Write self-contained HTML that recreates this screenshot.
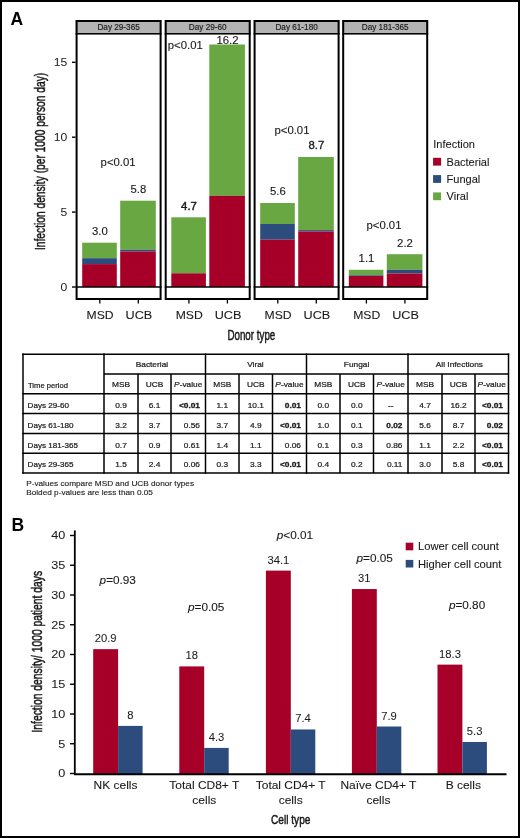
<!DOCTYPE html>
<html><head><meta charset="utf-8"><style>
html,body{margin:0;padding:0;background:#fff;}
svg{display:block;will-change:transform;font-family:"Liberation Sans", sans-serif;}
</style></head><body>
<svg width="520" height="838" viewBox="0 0 520 838">
<rect x="0" y="0" width="520" height="838" fill="#fff"/>
<text transform="translate(10.60,24.60) scale(1.0,1)" font-size="17.5" text-anchor="start" font-weight="bold" font-style="normal" fill="#000">A</text>
<rect x="75.60" y="20.00" width="86.00" height="14.50" fill="#b3b3b3" />
<rect x="82.20" y="242.70" width="34.60" height="15.50" fill="#69a742" />
<rect x="82.20" y="258.20" width="34.60" height="5.90" fill="#2c4c7e" />
<rect x="82.20" y="264.10" width="34.60" height="22.90" fill="#a60029" />
<text transform="translate(99.90,235.10) scale(1.07,1)" font-size="10.6" text-anchor="middle" font-weight="normal" font-style="normal" fill="#1a1a1a" stroke="#1a1a1a" stroke-width="0.12">3.0</text>
<rect x="120.20" y="200.70" width="35.60" height="49.00" fill="#69a742" />
<rect x="120.20" y="249.70" width="35.60" height="1.80" fill="#2c4c7e" />
<rect x="120.20" y="251.50" width="35.60" height="35.50" fill="#a60029" />
<text transform="translate(138.40,193.10) scale(1.07,1)" font-size="10.6" text-anchor="middle" font-weight="normal" font-style="normal" fill="#1a1a1a" stroke="#1a1a1a" stroke-width="0.12">5.8</text>
<line x1="75.60" y1="287.00" x2="161.60" y2="287.00" stroke="#000" stroke-width="1.6"/>
<line x1="75.60" y1="33.75" x2="161.60" y2="33.75" stroke="#000" stroke-width="1.5"/>
<rect x="76.6" y="21.0" width="84.0" height="278.0" fill="none" stroke="#000" stroke-width="2"/>
<text transform="translate(118.60,29.50) scale(1.0,1)" font-size="8.2" text-anchor="middle" font-weight="normal" font-style="normal" fill="#1a1a1a" stroke="#1a1a1a" stroke-width="0.15">Day 29-365</text>
<text transform="translate(100.60,166.00) scale(1.07,1)" font-size="10.6" text-anchor="start" font-weight="normal" font-style="normal" fill="#1a1a1a" stroke="#1a1a1a" stroke-width="0.1">p&lt;0.01</text>
<line x1="99.80" y1="300.00" x2="99.80" y2="303.50" stroke="#000" stroke-width="1.3"/>
<line x1="138.30" y1="300.00" x2="138.30" y2="303.50" stroke="#000" stroke-width="1.3"/>
<text transform="translate(100.10,318.80) scale(1.05,1)" font-size="11.6" text-anchor="middle" font-weight="normal" font-style="normal" fill="#1a1a1a" stroke="#1a1a1a" stroke-width="0.1">MSD</text>
<text transform="translate(138.90,318.80) scale(1.09,1)" font-size="11.6" text-anchor="middle" font-weight="normal" font-style="normal" fill="#1a1a1a" stroke="#1a1a1a" stroke-width="0.1">UCB</text>
<rect x="164.70" y="20.00" width="86.00" height="14.50" fill="#b3b3b3" />
<rect x="171.30" y="217.30" width="34.60" height="56.00" fill="#69a742" />
<rect x="171.30" y="273.30" width="34.60" height="0.00" fill="#2c4c7e" />
<rect x="171.30" y="273.30" width="34.60" height="13.70" fill="#a60029" />
<text transform="translate(189.00,209.70) scale(1.07,1)" font-size="10.6" text-anchor="middle" font-weight="normal" font-style="normal" fill="#1a1a1a" stroke="#1a1a1a" stroke-width="0.45">4.7</text>
<rect x="209.30" y="44.50" width="35.60" height="151.40" fill="#69a742" />
<rect x="209.30" y="195.90" width="35.60" height="0.00" fill="#2c4c7e" />
<rect x="209.30" y="195.90" width="35.60" height="91.10" fill="#a60029" />
<text transform="translate(227.50,43.60) scale(1.07,1)" font-size="10.6" text-anchor="middle" font-weight="normal" font-style="normal" fill="#1a1a1a" stroke="#1a1a1a" stroke-width="0.12">16.2</text>
<line x1="164.70" y1="287.00" x2="250.70" y2="287.00" stroke="#000" stroke-width="1.6"/>
<line x1="164.70" y1="33.75" x2="250.70" y2="33.75" stroke="#000" stroke-width="1.5"/>
<rect x="165.7" y="21.0" width="84.0" height="278.0" fill="none" stroke="#000" stroke-width="2"/>
<text transform="translate(207.70,29.50) scale(1.0,1)" font-size="8.2" text-anchor="middle" font-weight="normal" font-style="normal" fill="#1a1a1a" stroke="#1a1a1a" stroke-width="0.15">Day 29-60</text>
<text transform="translate(167.80,49.30) scale(1.07,1)" font-size="10.6" text-anchor="start" font-weight="normal" font-style="normal" fill="#1a1a1a" stroke="#1a1a1a" stroke-width="0.1">p&lt;0.01</text>
<line x1="188.90" y1="300.00" x2="188.90" y2="303.50" stroke="#000" stroke-width="1.3"/>
<line x1="227.40" y1="300.00" x2="227.40" y2="303.50" stroke="#000" stroke-width="1.3"/>
<text transform="translate(189.20,318.80) scale(1.05,1)" font-size="11.6" text-anchor="middle" font-weight="normal" font-style="normal" fill="#1a1a1a" stroke="#1a1a1a" stroke-width="0.1">MSD</text>
<text transform="translate(228.00,318.80) scale(1.09,1)" font-size="11.6" text-anchor="middle" font-weight="normal" font-style="normal" fill="#1a1a1a" stroke="#1a1a1a" stroke-width="0.1">UCB</text>
<rect x="253.60" y="20.00" width="86.00" height="14.50" fill="#b3b3b3" />
<rect x="260.20" y="203.00" width="34.60" height="21.00" fill="#69a742" />
<rect x="260.20" y="224.00" width="34.60" height="15.70" fill="#2c4c7e" />
<rect x="260.20" y="239.70" width="34.60" height="47.30" fill="#a60029" />
<text transform="translate(277.90,195.40) scale(1.07,1)" font-size="10.6" text-anchor="middle" font-weight="normal" font-style="normal" fill="#1a1a1a" stroke="#1a1a1a" stroke-width="0.12">5.6</text>
<rect x="298.20" y="157.00" width="35.60" height="73.10" fill="#69a742" />
<rect x="298.20" y="230.10" width="35.60" height="1.40" fill="#2c4c7e" />
<rect x="298.20" y="231.50" width="35.60" height="55.50" fill="#a60029" />
<text transform="translate(316.40,149.40) scale(1.07,1)" font-size="10.6" text-anchor="middle" font-weight="normal" font-style="normal" fill="#1a1a1a" stroke="#1a1a1a" stroke-width="0.3">8.7</text>
<line x1="253.60" y1="287.00" x2="339.60" y2="287.00" stroke="#000" stroke-width="1.6"/>
<line x1="253.60" y1="33.75" x2="339.60" y2="33.75" stroke="#000" stroke-width="1.5"/>
<rect x="254.6" y="21.0" width="84.0" height="278.0" fill="none" stroke="#000" stroke-width="2"/>
<text transform="translate(296.60,29.50) scale(1.0,1)" font-size="8.2" text-anchor="middle" font-weight="normal" font-style="normal" fill="#1a1a1a" stroke="#1a1a1a" stroke-width="0.15">Day 61-180</text>
<text transform="translate(274.50,134.20) scale(1.07,1)" font-size="10.6" text-anchor="start" font-weight="normal" font-style="normal" fill="#1a1a1a" stroke="#1a1a1a" stroke-width="0.1">p&lt;0.01</text>
<line x1="277.80" y1="300.00" x2="277.80" y2="303.50" stroke="#000" stroke-width="1.3"/>
<line x1="316.30" y1="300.00" x2="316.30" y2="303.50" stroke="#000" stroke-width="1.3"/>
<text transform="translate(278.10,318.80) scale(1.05,1)" font-size="11.6" text-anchor="middle" font-weight="normal" font-style="normal" fill="#1a1a1a" stroke="#1a1a1a" stroke-width="0.1">MSD</text>
<text transform="translate(316.90,318.80) scale(1.09,1)" font-size="11.6" text-anchor="middle" font-weight="normal" font-style="normal" fill="#1a1a1a" stroke="#1a1a1a" stroke-width="0.1">UCB</text>
<rect x="342.20" y="20.00" width="86.00" height="14.50" fill="#b3b3b3" />
<rect x="348.80" y="269.80" width="34.60" height="5.50" fill="#69a742" />
<rect x="348.80" y="275.30" width="34.60" height="0.70" fill="#2c4c7e" />
<rect x="348.80" y="276.00" width="34.60" height="11.00" fill="#a60029" />
<text transform="translate(366.50,262.20) scale(1.07,1)" font-size="10.6" text-anchor="middle" font-weight="normal" font-style="normal" fill="#1a1a1a" stroke="#1a1a1a" stroke-width="0.12">1.1</text>
<rect x="386.80" y="254.20" width="35.60" height="15.60" fill="#69a742" />
<rect x="386.80" y="269.80" width="35.60" height="3.70" fill="#2c4c7e" />
<rect x="386.80" y="273.50" width="35.60" height="13.50" fill="#a60029" />
<text transform="translate(405.00,246.60) scale(1.07,1)" font-size="10.6" text-anchor="middle" font-weight="normal" font-style="normal" fill="#1a1a1a" stroke="#1a1a1a" stroke-width="0.12">2.2</text>
<line x1="342.20" y1="287.00" x2="428.20" y2="287.00" stroke="#000" stroke-width="1.6"/>
<line x1="342.20" y1="33.75" x2="428.20" y2="33.75" stroke="#000" stroke-width="1.5"/>
<rect x="343.2" y="21.0" width="84.0" height="278.0" fill="none" stroke="#000" stroke-width="2"/>
<text transform="translate(385.20,29.50) scale(1.0,1)" font-size="8.2" text-anchor="middle" font-weight="normal" font-style="normal" fill="#1a1a1a" stroke="#1a1a1a" stroke-width="0.15">Day 181-365</text>
<text transform="translate(366.50,229.20) scale(1.07,1)" font-size="10.6" text-anchor="start" font-weight="normal" font-style="normal" fill="#1a1a1a" stroke="#1a1a1a" stroke-width="0.1">p&lt;0.01</text>
<line x1="366.40" y1="300.00" x2="366.40" y2="303.50" stroke="#000" stroke-width="1.3"/>
<line x1="404.90" y1="300.00" x2="404.90" y2="303.50" stroke="#000" stroke-width="1.3"/>
<text transform="translate(366.70,318.80) scale(1.05,1)" font-size="11.6" text-anchor="middle" font-weight="normal" font-style="normal" fill="#1a1a1a" stroke="#1a1a1a" stroke-width="0.1">MSD</text>
<text transform="translate(405.50,318.80) scale(1.09,1)" font-size="11.6" text-anchor="middle" font-weight="normal" font-style="normal" fill="#1a1a1a" stroke="#1a1a1a" stroke-width="0.1">UCB</text>
<line x1="72.00" y1="287.00" x2="75.60" y2="287.00" stroke="#000" stroke-width="1.4"/>
<text transform="translate(67.20,291.10) scale(1.03,1)" font-size="11.8" text-anchor="end" font-weight="normal" font-style="normal" fill="#1a1a1a">0</text>
<line x1="72.00" y1="212.10" x2="75.60" y2="212.10" stroke="#000" stroke-width="1.4"/>
<text transform="translate(67.20,216.20) scale(1.03,1)" font-size="11.8" text-anchor="end" font-weight="normal" font-style="normal" fill="#1a1a1a">5</text>
<line x1="72.00" y1="137.20" x2="75.60" y2="137.20" stroke="#000" stroke-width="1.4"/>
<text transform="translate(67.20,141.30) scale(1.03,1)" font-size="11.8" text-anchor="end" font-weight="normal" font-style="normal" fill="#1a1a1a">10</text>
<line x1="72.00" y1="62.30" x2="75.60" y2="62.30" stroke="#000" stroke-width="1.4"/>
<text transform="translate(67.20,66.40) scale(1.03,1)" font-size="11.8" text-anchor="end" font-weight="normal" font-style="normal" fill="#1a1a1a">15</text>
<text transform="translate(44.8,250) rotate(-90) scale(0.70,1)" font-size="14.6" fill="#1a1a1a" stroke="#1a1a1a" stroke-width="0.5">Infection density (per 1000 person day)</text>
<text transform="translate(227.4,339.5) scale(0.70,1)" font-size="14" fill="#1a1a1a" stroke="#1a1a1a" stroke-width="0.5">Donor type</text>
<text transform="translate(433.30,148.20) scale(1.0,1)" font-size="11" text-anchor="start" font-weight="normal" font-style="normal" fill="#1a1a1a" stroke="#1a1a1a" stroke-width="0.1">Infection</text>
<rect x="433.10" y="157.80" width="8.00" height="7.80" fill="#a60029" />
<text transform="translate(446.60,165.60) scale(1.0,1)" font-size="11" text-anchor="start" font-weight="normal" font-style="normal" fill="#1a1a1a" stroke="#1a1a1a" stroke-width="0.1">Bacterial</text>
<rect x="433.10" y="175.10" width="8.00" height="7.80" fill="#2c4c7e" />
<text transform="translate(446.60,182.90) scale(1.0,1)" font-size="11" text-anchor="start" font-weight="normal" font-style="normal" fill="#1a1a1a" stroke="#1a1a1a" stroke-width="0.1">Fungal</text>
<rect x="433.10" y="192.40" width="8.00" height="7.80" fill="#69a742" />
<text transform="translate(446.60,200.20) scale(1.0,1)" font-size="11" text-anchor="start" font-weight="normal" font-style="normal" fill="#1a1a1a" stroke="#1a1a1a" stroke-width="0.1">Viral</text>
<line x1="22.25" y1="354.20" x2="509.25" y2="354.20" stroke="#000" stroke-width="1.5"/>
<line x1="104.00" y1="374.10" x2="508.50" y2="374.10" stroke="#000" stroke-width="1.5"/>
<line x1="22.25" y1="393.70" x2="509.25" y2="393.70" stroke="#000" stroke-width="1.5"/>
<line x1="22.25" y1="413.60" x2="509.25" y2="413.60" stroke="#000" stroke-width="1.5"/>
<line x1="22.25" y1="433.40" x2="509.25" y2="433.40" stroke="#000" stroke-width="1.5"/>
<line x1="22.25" y1="453.20" x2="509.25" y2="453.20" stroke="#000" stroke-width="1.5"/>
<line x1="22.25" y1="473.10" x2="509.25" y2="473.10" stroke="#000" stroke-width="1.5"/>
<line x1="23.00" y1="353.45" x2="23.00" y2="473.85" stroke="#000" stroke-width="1.5"/>
<line x1="104.00" y1="353.45" x2="104.00" y2="473.85" stroke="#000" stroke-width="1.5"/>
<line x1="138.00" y1="374.10" x2="138.00" y2="473.10" stroke="#000" stroke-width="1.5"/>
<line x1="171.00" y1="374.10" x2="171.00" y2="473.10" stroke="#000" stroke-width="1.5"/>
<line x1="205.50" y1="353.45" x2="205.50" y2="473.85" stroke="#000" stroke-width="1.5"/>
<line x1="239.00" y1="374.10" x2="239.00" y2="473.10" stroke="#000" stroke-width="1.5"/>
<line x1="272.50" y1="374.10" x2="272.50" y2="473.10" stroke="#000" stroke-width="1.5"/>
<line x1="306.50" y1="353.45" x2="306.50" y2="473.85" stroke="#000" stroke-width="1.5"/>
<line x1="340.00" y1="374.10" x2="340.00" y2="473.10" stroke="#000" stroke-width="1.5"/>
<line x1="373.50" y1="374.10" x2="373.50" y2="473.10" stroke="#000" stroke-width="1.5"/>
<line x1="408.00" y1="353.45" x2="408.00" y2="473.85" stroke="#000" stroke-width="1.5"/>
<line x1="442.00" y1="374.10" x2="442.00" y2="473.10" stroke="#000" stroke-width="1.5"/>
<line x1="475.00" y1="374.10" x2="475.00" y2="473.10" stroke="#000" stroke-width="1.5"/>
<line x1="508.50" y1="353.45" x2="508.50" y2="473.85" stroke="#000" stroke-width="1.5"/>
<text transform="translate(28.00,387.60) scale(0.94,1)" font-size="8.1" text-anchor="start" font-weight="normal" font-style="normal" fill="#1a1a1a" stroke="#1a1a1a" stroke-width="0.22">Time period</text>
<text transform="translate(151.90,367.20) scale(1.03,1)" font-size="8.1" text-anchor="middle" font-weight="normal" font-style="normal" fill="#1a1a1a" stroke="#1a1a1a" stroke-width="0.22">Bacterial</text>
<text transform="translate(121.00,387.20) scale(1.03,1)" font-size="8.1" text-anchor="middle" font-weight="normal" font-style="normal" fill="#1a1a1a" stroke="#1a1a1a" stroke-width="0.22">MSB</text>
<text transform="translate(154.50,387.20) scale(1.03,1)" font-size="8.1" text-anchor="middle" font-weight="normal" font-style="normal" fill="#1a1a1a" stroke="#1a1a1a" stroke-width="0.22">UCB</text>
<text transform="translate(188.25,387.2) scale(1.03,1)" font-size="8.1" text-anchor="middle" fill="#1a1a1a" stroke="#1a1a1a" stroke-width="0.22"><tspan font-style="italic">P</tspan>-value</text>
<text transform="translate(255.40,367.20) scale(1.03,1)" font-size="8.1" text-anchor="middle" font-weight="normal" font-style="normal" fill="#1a1a1a" stroke="#1a1a1a" stroke-width="0.22">Viral</text>
<text transform="translate(222.25,387.20) scale(1.03,1)" font-size="8.1" text-anchor="middle" font-weight="normal" font-style="normal" fill="#1a1a1a" stroke="#1a1a1a" stroke-width="0.22">MSB</text>
<text transform="translate(255.75,387.20) scale(1.03,1)" font-size="8.1" text-anchor="middle" font-weight="normal" font-style="normal" fill="#1a1a1a" stroke="#1a1a1a" stroke-width="0.22">UCB</text>
<text transform="translate(289.50,387.2) scale(1.03,1)" font-size="8.1" text-anchor="middle" fill="#1a1a1a" stroke="#1a1a1a" stroke-width="0.22"><tspan font-style="italic">P</tspan>-value</text>
<text transform="translate(356.60,367.20) scale(1.03,1)" font-size="8.1" text-anchor="middle" font-weight="normal" font-style="normal" fill="#1a1a1a" stroke="#1a1a1a" stroke-width="0.22">Fungal</text>
<text transform="translate(323.25,387.20) scale(1.03,1)" font-size="8.1" text-anchor="middle" font-weight="normal" font-style="normal" fill="#1a1a1a" stroke="#1a1a1a" stroke-width="0.22">MSB</text>
<text transform="translate(356.75,387.20) scale(1.03,1)" font-size="8.1" text-anchor="middle" font-weight="normal" font-style="normal" fill="#1a1a1a" stroke="#1a1a1a" stroke-width="0.22">UCB</text>
<text transform="translate(390.75,387.2) scale(1.03,1)" font-size="8.1" text-anchor="middle" fill="#1a1a1a" stroke="#1a1a1a" stroke-width="0.22"><tspan font-style="italic">P</tspan>-value</text>
<text transform="translate(459.40,367.20) scale(1.03,1)" font-size="8.1" text-anchor="middle" font-weight="normal" font-style="normal" fill="#1a1a1a" stroke="#1a1a1a" stroke-width="0.22">All Infections</text>
<text transform="translate(425.00,387.20) scale(1.03,1)" font-size="8.1" text-anchor="middle" font-weight="normal" font-style="normal" fill="#1a1a1a" stroke="#1a1a1a" stroke-width="0.22">MSB</text>
<text transform="translate(458.50,387.20) scale(1.03,1)" font-size="8.1" text-anchor="middle" font-weight="normal" font-style="normal" fill="#1a1a1a" stroke="#1a1a1a" stroke-width="0.22">UCB</text>
<text transform="translate(491.75,387.2) scale(1.03,1)" font-size="8.1" text-anchor="middle" fill="#1a1a1a" stroke="#1a1a1a" stroke-width="0.22"><tspan font-style="italic">P</tspan>-value</text>
<text transform="translate(27.60,408.30) scale(1.0,1)" font-size="8.1" text-anchor="start" font-weight="normal" font-style="normal" fill="#1a1a1a" stroke="#1a1a1a" stroke-width="0.22">Days 29-60</text>
<text transform="translate(121.00,408.30) scale(1.03,1)" font-size="8.1" text-anchor="middle" font-weight="normal" font-style="normal" fill="#1a1a1a" stroke="#1a1a1a" stroke-width="0.22">0.9</text>
<text transform="translate(154.50,408.30) scale(1.03,1)" font-size="8.1" text-anchor="middle" font-weight="normal" font-style="normal" fill="#1a1a1a" stroke="#1a1a1a" stroke-width="0.22">6.1</text>
<text transform="translate(200.00,408.30) scale(1.03,1)" font-size="8.1" text-anchor="end" font-weight="bold" font-style="normal" fill="#1a1a1a" stroke="#1a1a1a" stroke-width="0.3">&lt;0.01</text>
<text transform="translate(222.25,408.30) scale(1.03,1)" font-size="8.1" text-anchor="middle" font-weight="normal" font-style="normal" fill="#1a1a1a" stroke="#1a1a1a" stroke-width="0.22">1.1</text>
<text transform="translate(255.75,408.30) scale(1.03,1)" font-size="8.1" text-anchor="middle" font-weight="normal" font-style="normal" fill="#1a1a1a" stroke="#1a1a1a" stroke-width="0.22">10.1</text>
<text transform="translate(301.00,408.30) scale(1.03,1)" font-size="8.1" text-anchor="end" font-weight="bold" font-style="normal" fill="#1a1a1a" stroke="#1a1a1a" stroke-width="0.3">0.01</text>
<text transform="translate(323.25,408.30) scale(1.03,1)" font-size="8.1" text-anchor="middle" font-weight="normal" font-style="normal" fill="#1a1a1a" stroke="#1a1a1a" stroke-width="0.22">0.0</text>
<text transform="translate(356.75,408.30) scale(1.03,1)" font-size="8.1" text-anchor="middle" font-weight="normal" font-style="normal" fill="#1a1a1a" stroke="#1a1a1a" stroke-width="0.22">0.0</text>
<text transform="translate(390.75,408.30) scale(1.03,1)" font-size="8.1" text-anchor="middle" font-weight="normal" font-style="normal" fill="#1a1a1a" stroke="#1a1a1a" stroke-width="0.22">--</text>
<text transform="translate(425.00,408.30) scale(1.03,1)" font-size="8.1" text-anchor="middle" font-weight="normal" font-style="normal" fill="#1a1a1a" stroke="#1a1a1a" stroke-width="0.22">4.7</text>
<text transform="translate(458.50,408.30) scale(1.03,1)" font-size="8.1" text-anchor="middle" font-weight="normal" font-style="normal" fill="#1a1a1a" stroke="#1a1a1a" stroke-width="0.22">16.2</text>
<text transform="translate(503.00,408.30) scale(1.03,1)" font-size="8.1" text-anchor="end" font-weight="bold" font-style="normal" fill="#1a1a1a" stroke="#1a1a1a" stroke-width="0.3">&lt;0.01</text>
<text transform="translate(27.60,428.10) scale(1.0,1)" font-size="8.1" text-anchor="start" font-weight="normal" font-style="normal" fill="#1a1a1a" stroke="#1a1a1a" stroke-width="0.22">Days 61-180</text>
<text transform="translate(121.00,428.10) scale(1.03,1)" font-size="8.1" text-anchor="middle" font-weight="normal" font-style="normal" fill="#1a1a1a" stroke="#1a1a1a" stroke-width="0.22">3.2</text>
<text transform="translate(154.50,428.10) scale(1.03,1)" font-size="8.1" text-anchor="middle" font-weight="normal" font-style="normal" fill="#1a1a1a" stroke="#1a1a1a" stroke-width="0.22">3.7</text>
<text transform="translate(200.00,428.10) scale(1.03,1)" font-size="8.1" text-anchor="end" font-weight="normal" font-style="normal" fill="#1a1a1a" stroke="#1a1a1a" stroke-width="0.22">0.56</text>
<text transform="translate(222.25,428.10) scale(1.03,1)" font-size="8.1" text-anchor="middle" font-weight="normal" font-style="normal" fill="#1a1a1a" stroke="#1a1a1a" stroke-width="0.22">3.7</text>
<text transform="translate(255.75,428.10) scale(1.03,1)" font-size="8.1" text-anchor="middle" font-weight="normal" font-style="normal" fill="#1a1a1a" stroke="#1a1a1a" stroke-width="0.22">4.9</text>
<text transform="translate(301.00,428.10) scale(1.03,1)" font-size="8.1" text-anchor="end" font-weight="bold" font-style="normal" fill="#1a1a1a" stroke="#1a1a1a" stroke-width="0.3">&lt;0.01</text>
<text transform="translate(323.25,428.10) scale(1.03,1)" font-size="8.1" text-anchor="middle" font-weight="normal" font-style="normal" fill="#1a1a1a" stroke="#1a1a1a" stroke-width="0.22">1.0</text>
<text transform="translate(356.75,428.10) scale(1.03,1)" font-size="8.1" text-anchor="middle" font-weight="normal" font-style="normal" fill="#1a1a1a" stroke="#1a1a1a" stroke-width="0.22">0.1</text>
<text transform="translate(402.50,428.10) scale(1.03,1)" font-size="8.1" text-anchor="end" font-weight="bold" font-style="normal" fill="#1a1a1a" stroke="#1a1a1a" stroke-width="0.3">0.02</text>
<text transform="translate(425.00,428.10) scale(1.03,1)" font-size="8.1" text-anchor="middle" font-weight="normal" font-style="normal" fill="#1a1a1a" stroke="#1a1a1a" stroke-width="0.22">5.6</text>
<text transform="translate(458.50,428.10) scale(1.03,1)" font-size="8.1" text-anchor="middle" font-weight="normal" font-style="normal" fill="#1a1a1a" stroke="#1a1a1a" stroke-width="0.22">8.7</text>
<text transform="translate(503.00,428.10) scale(1.03,1)" font-size="8.1" text-anchor="end" font-weight="bold" font-style="normal" fill="#1a1a1a" stroke="#1a1a1a" stroke-width="0.3">0.02</text>
<text transform="translate(27.60,448.00) scale(1.0,1)" font-size="8.1" text-anchor="start" font-weight="normal" font-style="normal" fill="#1a1a1a" stroke="#1a1a1a" stroke-width="0.22">Days 181-365</text>
<text transform="translate(121.00,448.00) scale(1.03,1)" font-size="8.1" text-anchor="middle" font-weight="normal" font-style="normal" fill="#1a1a1a" stroke="#1a1a1a" stroke-width="0.22">0.7</text>
<text transform="translate(154.50,448.00) scale(1.03,1)" font-size="8.1" text-anchor="middle" font-weight="normal" font-style="normal" fill="#1a1a1a" stroke="#1a1a1a" stroke-width="0.22">0.9</text>
<text transform="translate(200.00,448.00) scale(1.03,1)" font-size="8.1" text-anchor="end" font-weight="normal" font-style="normal" fill="#1a1a1a" stroke="#1a1a1a" stroke-width="0.22">0.61</text>
<text transform="translate(222.25,448.00) scale(1.03,1)" font-size="8.1" text-anchor="middle" font-weight="normal" font-style="normal" fill="#1a1a1a" stroke="#1a1a1a" stroke-width="0.22">1.4</text>
<text transform="translate(255.75,448.00) scale(1.03,1)" font-size="8.1" text-anchor="middle" font-weight="normal" font-style="normal" fill="#1a1a1a" stroke="#1a1a1a" stroke-width="0.22">1.1</text>
<text transform="translate(301.00,448.00) scale(1.03,1)" font-size="8.1" text-anchor="end" font-weight="normal" font-style="normal" fill="#1a1a1a" stroke="#1a1a1a" stroke-width="0.22">0.06</text>
<text transform="translate(323.25,448.00) scale(1.03,1)" font-size="8.1" text-anchor="middle" font-weight="normal" font-style="normal" fill="#1a1a1a" stroke="#1a1a1a" stroke-width="0.22">0.1</text>
<text transform="translate(356.75,448.00) scale(1.03,1)" font-size="8.1" text-anchor="middle" font-weight="normal" font-style="normal" fill="#1a1a1a" stroke="#1a1a1a" stroke-width="0.22">0.3</text>
<text transform="translate(402.50,448.00) scale(1.03,1)" font-size="8.1" text-anchor="end" font-weight="normal" font-style="normal" fill="#1a1a1a" stroke="#1a1a1a" stroke-width="0.22">0.86</text>
<text transform="translate(425.00,448.00) scale(1.03,1)" font-size="8.1" text-anchor="middle" font-weight="normal" font-style="normal" fill="#1a1a1a" stroke="#1a1a1a" stroke-width="0.22">1.1</text>
<text transform="translate(458.50,448.00) scale(1.03,1)" font-size="8.1" text-anchor="middle" font-weight="normal" font-style="normal" fill="#1a1a1a" stroke="#1a1a1a" stroke-width="0.22">2.2</text>
<text transform="translate(503.00,448.00) scale(1.03,1)" font-size="8.1" text-anchor="end" font-weight="bold" font-style="normal" fill="#1a1a1a" stroke="#1a1a1a" stroke-width="0.3">&lt;0.01</text>
<text transform="translate(27.60,467.10) scale(1.0,1)" font-size="8.1" text-anchor="start" font-weight="normal" font-style="normal" fill="#1a1a1a" stroke="#1a1a1a" stroke-width="0.22">Days 29-365</text>
<text transform="translate(121.00,467.10) scale(1.03,1)" font-size="8.1" text-anchor="middle" font-weight="normal" font-style="normal" fill="#1a1a1a" stroke="#1a1a1a" stroke-width="0.22">1.5</text>
<text transform="translate(154.50,467.10) scale(1.03,1)" font-size="8.1" text-anchor="middle" font-weight="normal" font-style="normal" fill="#1a1a1a" stroke="#1a1a1a" stroke-width="0.22">2.4</text>
<text transform="translate(200.00,467.10) scale(1.03,1)" font-size="8.1" text-anchor="end" font-weight="normal" font-style="normal" fill="#1a1a1a" stroke="#1a1a1a" stroke-width="0.22">0.06</text>
<text transform="translate(222.25,467.10) scale(1.03,1)" font-size="8.1" text-anchor="middle" font-weight="normal" font-style="normal" fill="#1a1a1a" stroke="#1a1a1a" stroke-width="0.22">0.3</text>
<text transform="translate(255.75,467.10) scale(1.03,1)" font-size="8.1" text-anchor="middle" font-weight="normal" font-style="normal" fill="#1a1a1a" stroke="#1a1a1a" stroke-width="0.22">3.3</text>
<text transform="translate(301.00,467.10) scale(1.03,1)" font-size="8.1" text-anchor="end" font-weight="bold" font-style="normal" fill="#1a1a1a" stroke="#1a1a1a" stroke-width="0.3">&lt;0.01</text>
<text transform="translate(323.25,467.10) scale(1.03,1)" font-size="8.1" text-anchor="middle" font-weight="normal" font-style="normal" fill="#1a1a1a" stroke="#1a1a1a" stroke-width="0.22">0.4</text>
<text transform="translate(356.75,467.10) scale(1.03,1)" font-size="8.1" text-anchor="middle" font-weight="normal" font-style="normal" fill="#1a1a1a" stroke="#1a1a1a" stroke-width="0.22">0.2</text>
<text transform="translate(402.50,467.10) scale(1.03,1)" font-size="8.1" text-anchor="end" font-weight="normal" font-style="normal" fill="#1a1a1a" stroke="#1a1a1a" stroke-width="0.22">0.11</text>
<text transform="translate(425.00,467.10) scale(1.03,1)" font-size="8.1" text-anchor="middle" font-weight="normal" font-style="normal" fill="#1a1a1a" stroke="#1a1a1a" stroke-width="0.22">3.0</text>
<text transform="translate(458.50,467.10) scale(1.03,1)" font-size="8.1" text-anchor="middle" font-weight="normal" font-style="normal" fill="#1a1a1a" stroke="#1a1a1a" stroke-width="0.22">5.8</text>
<text transform="translate(503.00,467.10) scale(1.03,1)" font-size="8.1" text-anchor="end" font-weight="bold" font-style="normal" fill="#1a1a1a" stroke="#1a1a1a" stroke-width="0.3">&lt;0.01</text>
<text transform="translate(26.20,485.70) scale(1.03,1)" font-size="8.0" text-anchor="start" font-weight="normal" font-style="normal" fill="#1a1a1a" stroke="#1a1a1a" stroke-width="0.12">P-values compare MSD and UCB donor types</text>
<text transform="translate(26.20,495.20) scale(1.03,1)" font-size="8.0" text-anchor="start" font-weight="normal" font-style="normal" fill="#1a1a1a" stroke="#1a1a1a" stroke-width="0.12">Bolded p-values are less than 0.05</text>
<text transform="translate(11.40,530.80) scale(1.0,1)" font-size="17.5" text-anchor="start" font-weight="bold" font-style="normal" fill="#000">B</text>
<rect x="93.20" y="649.14" width="24.90" height="124.86" fill="#a60029" />
<rect x="118.10" y="725.90" width="24.50" height="48.10" fill="#2c4c7e" />
<text transform="translate(105.65,642.14) scale(1.07,1)" font-size="10.5" text-anchor="middle" font-weight="normal" font-style="normal" fill="#1a1a1a" stroke="#1a1a1a" stroke-width="0.05">20.9</text>
<text transform="translate(130.35,718.90) scale(1.07,1)" font-size="10.5" text-anchor="middle" font-weight="normal" font-style="normal" fill="#1a1a1a" stroke="#1a1a1a" stroke-width="0.05">8</text>
<rect x="179.30" y="666.40" width="24.90" height="107.60" fill="#a60029" />
<rect x="204.20" y="747.91" width="24.50" height="26.09" fill="#2c4c7e" />
<text transform="translate(191.75,659.40) scale(1.07,1)" font-size="10.5" text-anchor="middle" font-weight="normal" font-style="normal" fill="#1a1a1a" stroke="#1a1a1a" stroke-width="0.05">18</text>
<text transform="translate(216.45,740.91) scale(1.07,1)" font-size="10.5" text-anchor="middle" font-weight="normal" font-style="normal" fill="#1a1a1a" stroke="#1a1a1a" stroke-width="0.05">4.3</text>
<rect x="265.90" y="570.61" width="24.90" height="203.39" fill="#a60029" />
<rect x="290.80" y="729.47" width="24.50" height="44.53" fill="#2c4c7e" />
<text transform="translate(278.35,563.61) scale(1.07,1)" font-size="10.5" text-anchor="middle" font-weight="normal" font-style="normal" fill="#1a1a1a" stroke="#1a1a1a" stroke-width="0.05">34.1</text>
<text transform="translate(303.05,722.47) scale(1.07,1)" font-size="10.5" text-anchor="middle" font-weight="normal" font-style="normal" fill="#1a1a1a" stroke="#1a1a1a" stroke-width="0.05">7.4</text>
<rect x="351.90" y="589.05" width="24.90" height="184.95" fill="#a60029" />
<rect x="376.80" y="726.50" width="24.50" height="47.50" fill="#2c4c7e" />
<text transform="translate(364.35,582.05) scale(1.07,1)" font-size="10.5" text-anchor="middle" font-weight="normal" font-style="normal" fill="#1a1a1a" stroke="#1a1a1a" stroke-width="0.05">31</text>
<text transform="translate(389.05,719.50) scale(1.07,1)" font-size="10.5" text-anchor="middle" font-weight="normal" font-style="normal" fill="#1a1a1a" stroke="#1a1a1a" stroke-width="0.05">7.9</text>
<rect x="437.50" y="664.62" width="24.90" height="109.38" fill="#a60029" />
<rect x="462.40" y="741.97" width="24.50" height="32.03" fill="#2c4c7e" />
<text transform="translate(449.95,657.62) scale(1.07,1)" font-size="10.5" text-anchor="middle" font-weight="normal" font-style="normal" fill="#1a1a1a" stroke="#1a1a1a" stroke-width="0.05">18.3</text>
<text transform="translate(474.65,734.97) scale(1.07,1)" font-size="10.5" text-anchor="middle" font-weight="normal" font-style="normal" fill="#1a1a1a" stroke="#1a1a1a" stroke-width="0.05">5.3</text>
<line x1="74.80" y1="530.40" x2="74.80" y2="775.00" stroke="#000" stroke-width="1.8"/>
<line x1="74.00" y1="774.20" x2="506.50" y2="774.20" stroke="#000" stroke-width="2"/>
<line x1="70.00" y1="773.50" x2="74.80" y2="773.50" stroke="#000" stroke-width="1.4"/>
<text transform="translate(65.40,777.40) scale(1.1,1)" font-size="11.5" text-anchor="end" font-weight="normal" font-style="normal" fill="#1a1a1a" stroke="#1a1a1a" stroke-width="0.05">0</text>
<line x1="70.00" y1="743.75" x2="74.80" y2="743.75" stroke="#000" stroke-width="1.4"/>
<text transform="translate(65.40,747.65) scale(1.1,1)" font-size="11.5" text-anchor="end" font-weight="normal" font-style="normal" fill="#1a1a1a" stroke="#1a1a1a" stroke-width="0.05">5</text>
<line x1="70.00" y1="714.00" x2="74.80" y2="714.00" stroke="#000" stroke-width="1.4"/>
<text transform="translate(65.40,717.90) scale(1.1,1)" font-size="11.5" text-anchor="end" font-weight="normal" font-style="normal" fill="#1a1a1a" stroke="#1a1a1a" stroke-width="0.05">10</text>
<line x1="70.00" y1="684.25" x2="74.80" y2="684.25" stroke="#000" stroke-width="1.4"/>
<text transform="translate(65.40,688.15) scale(1.1,1)" font-size="11.5" text-anchor="end" font-weight="normal" font-style="normal" fill="#1a1a1a" stroke="#1a1a1a" stroke-width="0.05">15</text>
<line x1="70.00" y1="654.50" x2="74.80" y2="654.50" stroke="#000" stroke-width="1.4"/>
<text transform="translate(65.40,658.40) scale(1.1,1)" font-size="11.5" text-anchor="end" font-weight="normal" font-style="normal" fill="#1a1a1a" stroke="#1a1a1a" stroke-width="0.05">20</text>
<line x1="70.00" y1="624.75" x2="74.80" y2="624.75" stroke="#000" stroke-width="1.4"/>
<text transform="translate(65.40,628.65) scale(1.1,1)" font-size="11.5" text-anchor="end" font-weight="normal" font-style="normal" fill="#1a1a1a" stroke="#1a1a1a" stroke-width="0.05">25</text>
<line x1="70.00" y1="595.00" x2="74.80" y2="595.00" stroke="#000" stroke-width="1.4"/>
<text transform="translate(65.40,598.90) scale(1.1,1)" font-size="11.5" text-anchor="end" font-weight="normal" font-style="normal" fill="#1a1a1a" stroke="#1a1a1a" stroke-width="0.05">30</text>
<line x1="70.00" y1="565.25" x2="74.80" y2="565.25" stroke="#000" stroke-width="1.4"/>
<text transform="translate(65.40,569.15) scale(1.1,1)" font-size="11.5" text-anchor="end" font-weight="normal" font-style="normal" fill="#1a1a1a" stroke="#1a1a1a" stroke-width="0.05">35</text>
<line x1="70.00" y1="535.50" x2="74.80" y2="535.50" stroke="#000" stroke-width="1.4"/>
<text transform="translate(65.40,539.40) scale(1.1,1)" font-size="11.5" text-anchor="end" font-weight="normal" font-style="normal" fill="#1a1a1a" stroke="#1a1a1a" stroke-width="0.05">40</text>
<text transform="translate(99.6,583.9) scale(1.07,1)" font-size="11" fill="#1a1a1a" stroke="#1a1a1a" stroke-width="0.1"><tspan font-style="italic">p</tspan>=0.93</text>
<text transform="translate(188.0,611.1) scale(1.07,1)" font-size="11" fill="#1a1a1a" stroke="#1a1a1a" stroke-width="0.1"><tspan font-style="italic">p</tspan>=0.05</text>
<text transform="translate(276.8,539.2) scale(1.07,1)" font-size="11" fill="#1a1a1a" stroke="#1a1a1a" stroke-width="0.1"><tspan font-style="italic">p</tspan>&lt;0.01</text>
<text transform="translate(356.5,561.8) scale(1.07,1)" font-size="11" fill="#1a1a1a" stroke="#1a1a1a" stroke-width="0.1"><tspan font-style="italic">p</tspan>=0.05</text>
<text transform="translate(448.9,608.8) scale(1.07,1)" font-size="11" fill="#1a1a1a" stroke="#1a1a1a" stroke-width="0.1"><tspan font-style="italic">p</tspan>=0.80</text>
<text transform="translate(115.50,789.10) scale(1.05,1)" font-size="11.4" text-anchor="middle" font-weight="normal" font-style="normal" fill="#1a1a1a" stroke="#1a1a1a" stroke-width="0.1">NK cells</text>
<text transform="translate(204.30,789.10) scale(1.05,1)" font-size="11.4" text-anchor="middle" font-weight="normal" font-style="normal" fill="#1a1a1a" stroke="#1a1a1a" stroke-width="0.1">Total CD8+ T</text>
<text transform="translate(204.30,804.10) scale(1.05,1)" font-size="11.4" text-anchor="middle" font-weight="normal" font-style="normal" fill="#1a1a1a" stroke="#1a1a1a" stroke-width="0.1">cells</text>
<text transform="translate(290.70,789.10) scale(1.05,1)" font-size="11.4" text-anchor="middle" font-weight="normal" font-style="normal" fill="#1a1a1a" stroke="#1a1a1a" stroke-width="0.1">Total CD4+ T</text>
<text transform="translate(290.70,804.10) scale(1.05,1)" font-size="11.4" text-anchor="middle" font-weight="normal" font-style="normal" fill="#1a1a1a" stroke="#1a1a1a" stroke-width="0.1">cells</text>
<text transform="translate(378.40,789.10) scale(1.05,1)" font-size="11.4" text-anchor="middle" font-weight="normal" font-style="normal" fill="#1a1a1a" stroke="#1a1a1a" stroke-width="0.1">Naïve CD4+ T</text>
<text transform="translate(378.40,804.10) scale(1.05,1)" font-size="11.4" text-anchor="middle" font-weight="normal" font-style="normal" fill="#1a1a1a" stroke="#1a1a1a" stroke-width="0.1">cells</text>
<text transform="translate(463.30,789.10) scale(1.05,1)" font-size="11.4" text-anchor="middle" font-weight="normal" font-style="normal" fill="#1a1a1a" stroke="#1a1a1a" stroke-width="0.1">B cells</text>
<rect x="405.70" y="542.70" width="7.60" height="7.60" fill="#a60029" />
<text transform="translate(418.00,550.30) scale(1.01,1)" font-size="11.1" text-anchor="start" font-weight="normal" font-style="normal" fill="#1a1a1a" stroke="#1a1a1a" stroke-width="0.1">Lower cell count</text>
<rect x="405.70" y="559.90" width="7.60" height="7.60" fill="#2c4c7e" />
<text transform="translate(418.00,567.60) scale(1.01,1)" font-size="11.1" text-anchor="start" font-weight="normal" font-style="normal" fill="#1a1a1a" stroke="#1a1a1a" stroke-width="0.1">Higher cell count</text>
<text transform="translate(42.2,732.5) rotate(-90) scale(0.737,1)" font-size="14" fill="#1a1a1a" stroke="#1a1a1a" stroke-width="0.5">Infection density/ 1000 patient days</text>
<text transform="translate(271.0,824.2) scale(0.745,1)" font-size="13.6" fill="#1a1a1a" stroke="#1a1a1a" stroke-width="0.5">Cell type</text>
<rect x="1" y="1" width="518" height="836" fill="none" stroke="#000" stroke-width="2"/>
</svg>
</body></html>
